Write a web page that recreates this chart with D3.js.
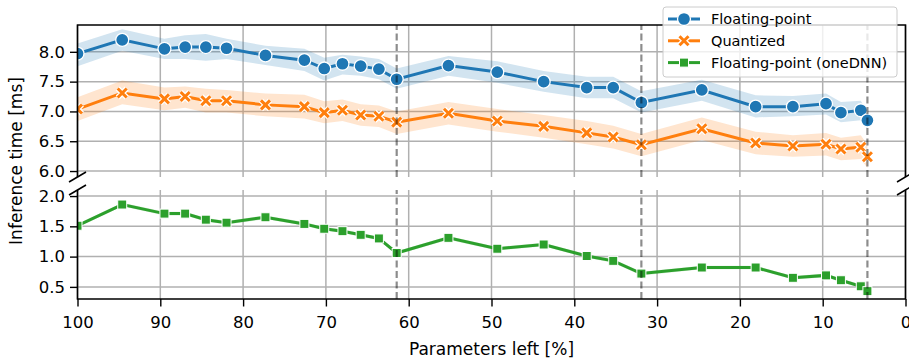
<!DOCTYPE html>
<html>
<head>
<meta charset="utf-8">
<script src="https://cdn.jsdelivr.net/npm/d3@7"></script>
<style>
  body { margin: 0; background: #fff; }
  text { font-family: "DejaVu Sans", sans-serif; }
</style>
</head>
<body>
<svg id="chart" width="909" height="360"></svg>
<script>
// parameters left [%]
var params = [100, 94.6, 89.5, 87.0, 84.5, 82.0, 77.3, 72.6, 70.2, 68.0, 65.8, 63.6, 61.45,
  55.2, 49.3, 43.7, 38.5, 35.3, 31.9, 24.6, 18.1, 13.6, 9.6, 7.8, 5.4, 4.6];

var fpMean = [7.97, 8.20, 8.05, 8.08, 8.08, 8.06, 7.94, 7.86, 7.72, 7.80, 7.76, 7.71, 7.54,
  7.77, 7.66, 7.50, 7.40, 7.40, 7.15, 7.36, 7.08, 7.08, 7.13, 6.98, 7.02, 6.85];
var fpHi = [8.14, 8.38, 8.22, 8.28, 8.30, 8.22, 8.10, 8.05, 7.90, 7.95, 7.92, 7.88, 7.72,
  7.93, 7.84, 7.68, 7.58, 7.58, 7.34, 7.53, 7.27, 7.26, 7.30, 7.16, 7.18, 7.00];
var fpLo = [7.76, 8.02, 7.88, 7.88, 7.85, 7.88, 7.78, 7.68, 7.52, 7.62, 7.60, 7.54, 7.38,
  7.60, 7.48, 7.33, 7.22, 7.22, 6.98, 7.18, 6.90, 6.92, 6.95, 6.82, 6.85, 6.70];

var qMean = [7.04, 7.31, 7.21, 7.25, 7.18, 7.18, 7.11, 7.08, 6.98, 7.02, 6.94, 6.92, 6.82,
  6.97, 6.84, 6.75, 6.64, 6.57, 6.44, 6.71, 6.47, 6.42, 6.45, 6.37, 6.40, 6.24];
var qHi = [7.24, 7.52, 7.40, 7.42, 7.38, 7.36, 7.30, 7.28, 7.17, 7.20, 7.12, 7.10, 7.00,
  7.16, 7.04, 6.94, 6.84, 6.76, 6.62, 6.90, 6.66, 6.60, 6.64, 6.56, 6.60, 6.44];
var qLo = [6.84, 7.12, 7.02, 7.06, 6.98, 6.98, 6.92, 6.88, 6.80, 6.84, 6.76, 6.74, 6.62,
  6.78, 6.66, 6.56, 6.45, 6.38, 6.25, 6.52, 6.28, 6.24, 6.26, 6.18, 6.20, 6.05];

var dnnMean = [1.51, 1.86, 1.71, 1.71, 1.61, 1.56, 1.65, 1.54, 1.46, 1.42, 1.36, 1.30, 1.06,
  1.31, 1.13, 1.20, 1.01, 0.93, 0.72, 0.82, 0.82, 0.65, 0.69, 0.61, 0.51, 0.43];
var dnnHi = [1.54, 1.89, 1.74, 1.74, 1.64, 1.59, 1.68, 1.57, 1.49, 1.45, 1.39, 1.33, 1.09,
  1.34, 1.16, 1.23, 1.04, 0.96, 0.75, 0.85, 0.85, 0.68, 0.72, 0.64, 0.54, 0.46];
var dnnLo = [1.48, 1.83, 1.68, 1.68, 1.58, 1.53, 1.62, 1.51, 1.43, 1.39, 1.33, 1.27, 1.03,
  1.28, 1.10, 1.17, 0.98, 0.90, 0.69, 0.79, 0.79, 0.62, 0.66, 0.58, 0.48, 0.40];

var cutLines = [61.45, 31.9, 4.6];
var xTicks = [100, 90, 80, 70, 60, 50, 40, 30, 20, 10, 0];
var topTicks = [6.0, 6.5, 7.0, 7.5, 8.0];
var botTicks = [0.5, 1.0, 1.5, 2.0];

var blue = "#1f77b4", orange = "#ff7f0e", green = "#2ca02c";
var tickFont = 16.5, labelFont = 17;

var svg = d3.select("#chart");
var x = d3.scaleLinear().domain([100, 0]).range([77.5, 905.5]);
var yTop = d3.scaleLinear().domain([5.9, 8.45]).range([177, 25]);
var yBot = d3.scaleLinear().domain([0.3, 2.1]).range([299, 190]);

function panel(id, y, ticks) {
  var y0 = y.range()[0], y1 = y.range()[1];
  var g = svg.append("g");
  g.append("clipPath").attr("id", id)
    .append("rect").attr("x", x(100)).attr("y", y1)
    .attr("width", x(0) - x(100)).attr("height", y0 - y1);

  // grid
  g.selectAll(".vg").data(xTicks).join("line")
    .attr("x1", d => x(d)).attr("x2", d => x(d))
    .attr("y1", y0).attr("y2", y1)
    .attr("stroke", "#b0b0b0").attr("stroke-width", 1.5);
  g.selectAll(".hg").data(ticks).join("line")
    .attr("x1", x(100)).attr("x2", x(0))
    .attr("y1", d => y(d)).attr("y2", d => y(d))
    .attr("stroke", "#b0b0b0").attr("stroke-width", 1.5);

  var yAxis = g.append("g").attr("transform", "translate(" + x(100) + ",0)")
    .call(d3.axisLeft(y).tickValues(ticks).tickFormat(d3.format(".1f")).tickSize(7.5).tickPadding(5));
  yAxis.select(".domain").remove();
  yAxis.selectAll("line").attr("stroke", "#000").attr("stroke-width", 1.4);
  yAxis.selectAll("text").attr("font-size", tickFont).attr("font-family", "DejaVu Sans").attr("fill", "#000");

  return g.append("g").attr("clip-path", "url(#" + id + ")");
}

function series(g, y, mean, lo, hi, color, marker) {
  var rows = params.map((p, i) => ({ p: p, m: mean[i], lo: lo[i], hi: hi[i] }));
  g.append("path").datum(rows)
    .attr("d", d3.area().x(d => x(d.p)).y0(d => y(d.lo)).y1(d => y(d.hi)))
    .attr("fill", color).attr("fill-opacity", 0.2);
  g.append("path").datum(rows)
    .attr("d", d3.line().x(d => x(d.p)).y(d => y(d.m)))
    .attr("fill", "none").attr("stroke", color).attr("stroke-width", 3);
  var pts = g.selectAll(null).data(rows).join("g")
    .attr("transform", d => "translate(" + x(d.p) + "," + y(d.m) + ")");
  drawMarker(pts, color, marker);
}

function drawMarker(sel, color, marker) {
  if (marker === "circle") {
    sel.append("circle").attr("r", 6.5).attr("fill", color)
      .attr("stroke", "#fff").attr("stroke-width", 1.3);
  } else if (marker === "x") {
    var c = "M-4.5,-4.5L4.5,4.5M-4.5,4.5L4.5,-4.5";
    sel.append("path").attr("d", c).attr("stroke", "#fff").attr("stroke-width", 5.5);
    sel.append("path").attr("d", c).attr("stroke", color).attr("stroke-width", 3);
  } else {
    sel.append("rect").attr("x", -4.5).attr("y", -4.5).attr("width", 9).attr("height", 9)
      .attr("fill", color).attr("stroke", "#fff").attr("stroke-width", 1);
  }
}

var gTop = panel("clipTop", yTop, topTicks);
series(gTop, yTop, fpMean, fpLo, fpHi, blue, "circle");
series(gTop, yTop, qMean, qLo, qHi, orange, "x");

var gBot = panel("clipBot", yBot, botTicks);
series(gBot, yBot, dnnMean, dnnLo, dnnHi, green, "square");

// vertical dashed cut lines
[yTop, yBot].forEach(y => {
  svg.append("g").selectAll("line").data(cutLines).join("line")
    .attr("x1", d => x(d)).attr("x2", d => x(d))
    .attr("y1", y.range()[0]).attr("y2", y.range()[1])
    .attr("stroke", "#000").attr("stroke-opacity", 0.45)
    .attr("stroke-width", 2.2).attr("stroke-dasharray", "7,3.5");
});

// spines
var sp = svg.append("g").attr("stroke", "#000").attr("stroke-width", 1.6).attr("fill", "none");
sp.append("path").attr("d", "M" + x(100) + "," + yTop(5.9) + "V" + yTop(8.45) + "H" + x(0) + "V" + yTop(5.9));
sp.append("path").attr("d", "M" + x(100) + "," + yBot(2.1) + "V" + yBot(0.3) + "H" + x(0) + "V" + yBot(2.1));

// break marks
[[x(100), yTop(5.9)], [x(0), yTop(5.9)], [x(100), yBot(2.1)], [x(0), yBot(2.1)]].forEach(c => {
  sp.append("line").attr("x1", c[0] - 8.5).attr("y1", c[1] + 5)
    .attr("x2", c[0] + 8.5).attr("y2", c[1] - 5);
});

// x axis
var xAxis = svg.append("g").attr("transform", "translate(0," + yBot(0.3) + ")")
  .call(d3.axisBottom(x).tickValues(xTicks).tickFormat(d3.format("d")).tickSize(7.5).tickPadding(10));
xAxis.select(".domain").remove();
xAxis.selectAll("line").attr("stroke", "#000").attr("stroke-width", 1.4);
xAxis.selectAll("text").attr("font-size", tickFont).attr("font-family", "DejaVu Sans").attr("fill", "#000");

svg.append("text").attr("x", (x(100) + x(0)) / 2).attr("y", 355)
  .attr("text-anchor", "middle").attr("font-size", labelFont).text("Parameters left [%]");
svg.append("text").attr("transform", "translate(21.5,161) rotate(-90)")
  .attr("text-anchor", "middle").attr("font-size", labelFont).text("Inference time [ms]");

// legend
var legendItems = [
  { name: "Floating-point", color: blue, marker: "circle" },
  { name: "Quantized", color: orange, marker: "x" },
  { name: "Floating-point (oneDNN)", color: green, marker: "square" }
];
var lg = svg.append("g").attr("transform", "translate(663,7)");
lg.append("rect").attr("width", 234).attr("height", 70).attr("rx", 3)
  .attr("fill", "#fff").attr("fill-opacity", 0.8).attr("stroke", "#cccccc");
var li = lg.selectAll(".li").data(legendItems).join("g")
  .attr("transform", (d, i) => "translate(0," + (12 + i * 21.8) + ")");
li.append("line").attr("x1", 5).attr("x2", 37).attr("stroke", d => d.color).attr("stroke-width", 3);
li.each(function (d) {
  var m = d3.select(this).append("g").attr("transform", "translate(21,0)");
  drawMarker(m, d.color, d.marker);
});
li.append("text").attr("x", 48).attr("y", 5).attr("font-size", 14.5).text(d => d.name);
</script>
</body>
</html>
